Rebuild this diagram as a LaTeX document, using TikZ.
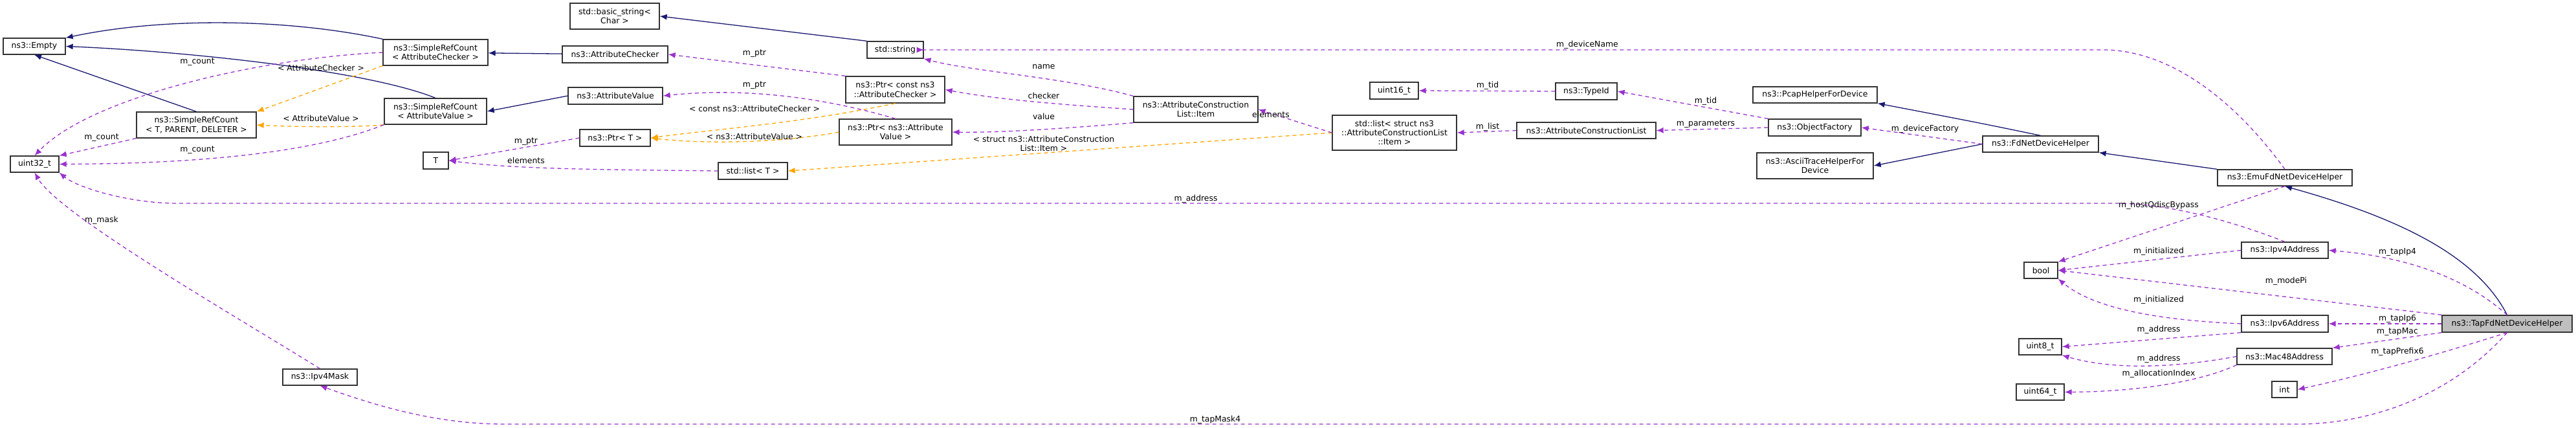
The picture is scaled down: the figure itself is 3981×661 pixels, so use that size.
\documentclass[tikz,border=0pt]{standalone}
\usepackage{fontspec}
\setmainfont{DejaVu Sans}
\usetikzlibrary{arrows.meta}
\definecolor{inh}{HTML}{191970}
\definecolor{use}{HTML}{9A32CD}
\definecolor{tpl}{HTML}{FFA500}
\newcommand\bx[6][]{\node[box,#1,minimum width={(#5-#3)*1pt},minimum height={(#6-#4)*1pt}] (#2) at ({(#3+#5)/2},{(#4+#6)/2})}
\begin{document}
\begin{tikzpicture}[x=1pt,y=-1pt,
  box/.style={draw=black!80,line width=1.3pt,fill=white,inner sep=0pt,align=center,font=\fontsize{12.4}{14.3}\selectfont},
  lab/.style={inner sep=1pt,align=center,font=\fontsize{12.4}{14.3}\selectfont},
  inhe/.style={draw=inh,line width=1.3pt,-{Latex[length=11pt,width=9pt]}},
  usee/.style={draw=use,line width=1.3pt,dash pattern=on 6pt off 5pt,-{Latex[length=11pt,width=9pt]}},
  tple/.style={draw=tpl,line width=1.3pt,dash pattern=on 6pt off 5pt,-{Latex[length=11pt,width=9pt]}}]
\useasboundingbox (0,0) rectangle (3981,661);
\bx{empty}{5}{59}{101}{84}{ns3::Empty};
\bx{srcac}{592}{61}{754}{101}{ns3::SimpleRefCount\\< AttributeChecker >};
\bx{srct}{211}{173}{396}{213}{ns3::SimpleRefCount\\< T, PARENT, DELETER >};
\bx{srcav}{594}{152}{752}{192}{ns3::SimpleRefCount\\< AttributeValue >};
\bx{uint32}{16}{241}{91}{266}{uint32\_t};
\bx{basicstr}{881}{5}{1019}{45}{std::basic\_string<\\Char >};
\bx{attrchk}{869}{71}{1032}{97}{ns3::AttributeChecker};
\bx{attrval}{878}{135}{1024}{161}{ns3::AttributeValue};
\bx{ptrT}{896}{200}{1005}{226}{ns3::Ptr< T >};
\bx{T}{654}{235}{693}{261}{T};
\bx{stdstring}{1340}{64}{1427}{90}{std::string};
\bx{ptrchk}{1307}{118}{1460}{159}{ns3::Ptr< const ns3\\::AttributeChecker >};
\bx{ptrval}{1297}{184}{1471}{224}{ns3::Ptr< ns3::Attribute\\Value >};
\bx{acitem}{1752}{149}{1944}{189}{ns3::AttributeConstruction\\List::Item};
\bx{listT}{1110}{251}{1217}{277}{std::list< T >};
\bx{uint16}{2117}{127}{2192}{153}{uint16\_t};
\bx{typeid}{2404}{128}{2499}{154}{ns3::TypeId};
\bx{listitem}{2059}{178}{2251}{232}{std::list< struct ns3\\::AttributeConstructionList\\::Item >};
\bx{acl}{2344}{189}{2559}{214}{ns3::AttributeConstructionList};
\bx{objf}{2733}{184}{2876}{210}{ns3::ObjectFactory};
\bx{pcap}{2709}{134}{2901}{159}{ns3::PcapHelperForDevice};
\bx{ascii}{2715}{236}{2895}{276}{ns3::AsciiTraceHelperFor\\Device};
\bx{fdhelper}{3064}{210}{3243}{235}{ns3::FdNetDeviceHelper};
\bx{emu}{3427}{262}{3635}{287}{ns3::EmuFdNetDeviceHelper};
\bx{bool}{3128}{405}{3180}{430}{bool};
\bx{ipv4}{3464}{374}{3598}{399}{ns3::Ipv4Address};
\bx{ipv6}{3464}{487}{3598}{513}{ns3::Ipv6Address};
\bx[fill=black!25]{tap}{3774}{487}{3975}{513}{ns3::TapFdNetDeviceHelper};
\bx{uint8}{3120}{523}{3186}{548}{uint8\_t};
\bx{mac48}{3457}{538}{3604}{563}{ns3::Mac48Address};
\bx{uint64}{3116}{593}{3190}{618}{uint64\_t};
\bx{int}{3511}{589}{3550}{614}{int};
\bx{ipv4mask}{437}{570}{552}{595}{ns3::Ipv4Mask};
% inheritance
\draw[inhe] (srcac.north west) .. controls (450,30) and (260,25) .. (empty.north east);
\draw[inhe] (srcav.north) .. controls (570,110) and (300,80) .. (empty.east);
\draw[inhe] (srct.north) -- (empty.south);
\draw[inhe] (attrchk) -- (srcac);
\draw[inhe] (attrval.west) -- (srcav.east);
\draw[inhe] (stdstring.north west) -- (basicstr.east);
\draw[inhe] (fdhelper.north) .. controls (3060,190) .. (pcap.south east);
\draw[inhe] (fdhelper.west) -- (ascii.east);
\draw[inhe] (emu.north west) -- (fdhelper.south east);
\draw[inhe] (tap.north) .. controls (3830,400) and (3720,340) .. (emu.south);
% templates
\draw[tple] (srcac.south west) -- (srct.north east);
\draw[tple] (srcav.south west) .. controls (560,196) and (480,197) .. (srct.east);
\draw[tple] (ptrchk.south) .. controls (1240,190) and (1100,200) .. (ptrT.east);
\draw[tple] (ptrval.west) .. controls (1200,222) and (1080,222) .. (ptrT.east);
\draw[tple] (listitem.west) -- (listT.east);
% usage
\draw[usee] (srcac.west) .. controls (400,90) and (140,150) .. (uint32.north);
\draw[usee] (srct.south west) -- (uint32.north east);
\draw[usee] (srcav.south west) .. controls (450,250) and (200,253) .. (uint32.east);
\draw[usee] (ptrchk.north west) -- (attrchk.east);
\draw[usee] (ptrval.north) .. controls (1270,150) and (1150,135) .. (attrval.east);
\draw[usee] (ptrT.west) -- (T.east);
\draw[usee] (listT.west) .. controls (950,262) and (800,262) .. (T.east);
\draw[usee] (acitem.north west) .. controls (1650,120) and (1500,110) .. (stdstring.south east);
\draw[usee] (acitem.west) .. controls (1650,162) and (1550,155) .. (ptrchk.east);
\draw[usee] (acitem.south west) .. controls (1650,198) and (1550,205) .. (ptrval.east);
\draw[usee] (listitem.west) -- (acitem.east);
\draw[usee] (typeid.west) -- (uint16.east);
\draw[usee] (acl.west) -- (listitem.east);
\draw[usee] (objf.north west) -- (typeid.east);
\draw[usee] (objf.west) -- (acl.east);
\draw[usee] (fdhelper.west) -- (objf.east);
\draw[usee] (emu.north) .. controls (3450,150) and (3350,77) .. (3250,77) -- (1427,77) -- (stdstring.east);
\draw[usee] (ipv4.north) .. controls (3420,330) and (3330,314) .. (3269,314) -- (274,314) .. controls (200,314) and (120,290) .. (uint32.south east);
\draw[usee] (ipv4mask.north) .. controls (350,480) and (90,330) .. (uint32.south);
\draw[usee] (tap.south) .. controls (3780,620) and (3650,655) .. (3551,655) -- (780,655) .. controls (680,655) and (590,630) .. (ipv4mask.south);
\draw[usee] (emu.south) -- (bool.north east);
\draw[usee] (ipv4.west) -- (bool.east);
\draw[usee] (tap.north west) -- (bool.east);
\draw[usee] (ipv6.west) .. controls (3350,495) and (3240,480) .. (bool.south east);
\draw[usee] (tap.north) .. controls (3800,420) and (3700,395) .. (ipv4.east);
\draw[usee] (tap.west) -- (ipv6.east);
\draw[usee] (tap.south west) -- (mac48.north east);
\draw[usee] (tap.south) .. controls (3760,550) and (3650,580) .. (int.east);
\draw[usee] (ipv6.south west) -- (uint8.east);
\draw[usee] (mac48.west) .. controls (3350,570) and (3260,570) .. (uint8.south east);
\draw[usee] (mac48.south west) .. controls (3400,590) and (3300,605) .. (uint64.east);
% labels
\node[lab] (l1) at (305,96) {m\_count};
\node[lab] (l2) at (496,105) {< AttributeChecker >};
\node[lab] (l3) at (157,213) {m\_count};
\node[lab] (l4) at (496,183) {< AttributeValue >};
\node[lab] (l5) at (305,232) {m\_count};
\node[lab] (l6) at (813,219) {m\_ptr};
\node[lab] (l7) at (813,248) {elements};
\node[lab] (l8) at (157,340) {m\_mask};
\node[lab] (l9) at (1166,83) {m\_ptr};
\node[lab] (l10) at (1166,132) {m\_ptr};
\node[lab] (l11) at (1166,168) {< const ns3::AttributeChecker >};
\node[lab] (l12) at (1166,211) {< ns3::AttributeValue >};
\node[lab] (l13) at (1613,103) {name};
\node[lab] (l14) at (1613,148) {checker};
\node[lab] (l15) at (1613,180) {value};
\node[lab] (l16) at (1613,222) {< struct ns3::AttributeConstruction\\List::Item >};
\node[lab] (l17) at (1848,307) {m\_address};
\node[lab] (l18) at (2453,69) {m\_deviceName};
\node[lab] (l19) at (2299,132) {m\_tid};
\node[lab] (l20) at (2636,156) {m\_tid};
\node[lab] (l21) at (2299,196) {m\_list};
\node[lab] (l22) at (2636,192) {m\_parameters};
\node[lab] (l23) at (2975,199) {m\_deviceFactory};
\node[lab] (l24) at (1964,177) {elements};
\node[lab] (l25) at (3336,317) {m\_hostQdiscBypass};
\node[lab] (l26) at (3336,388) {m\_initialized};
\node[lab] (l27) at (3705,389) {m\_tapIp4};
\node[lab] (l28) at (3533,434) {m\_modePi};
\node[lab] (l29) at (3336,463) {m\_initialized};
\node[lab] (l30) at (3705,492) {m\_tapIp6};
\node[lab] (l31) at (3705,512) {m\_tapMac};
\node[lab] (l32) at (3336,509) {m\_address};
\node[lab] (l33) at (3336,554) {m\_address};
\node[lab] (l34) at (3336,577) {m\_allocationIndex};
\node[lab] (l35) at (3705,543) {m\_tapPrefix6};
\node[lab] (l36) at (1878,648) {m\_tapMask4};
\end{tikzpicture}
\end{document}
